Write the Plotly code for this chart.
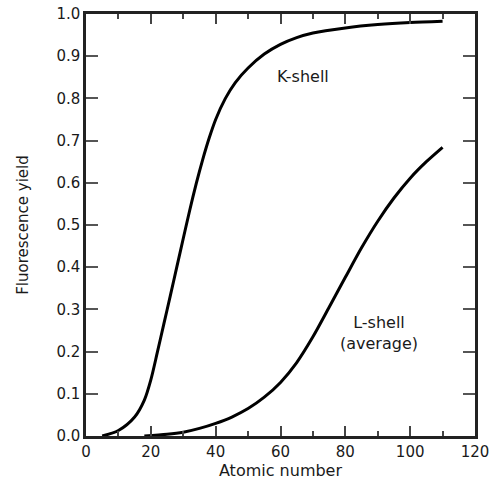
import plotly.graph_objects as go

# K-shell fluorescence yield vs atomic number
k_z = [5, 10, 15, 18, 20, 22, 24, 26, 28, 30, 32, 34, 36, 38, 40, 43, 46, 50, 55, 60, 65, 70, 80, 90, 100, 110]
k_yield = [0.0, 0.013, 0.045, 0.085, 0.133, 0.198, 0.265, 0.332, 0.4, 0.468, 0.535, 0.598, 0.655, 0.706, 0.75,
           0.8, 0.837, 0.872, 0.905, 0.928, 0.944, 0.955, 0.967, 0.975, 0.98, 0.983]

# L-shell (average) fluorescence yield
l_z = [18, 25, 30, 35, 40, 45, 50, 55, 60, 65, 70, 75, 80, 85, 90, 95, 100, 105, 110]
l_yield = [0.0, 0.004, 0.009, 0.018, 0.03, 0.045, 0.065, 0.092, 0.127, 0.174, 0.235, 0.305, 0.376, 0.446,
           0.509, 0.564, 0.611, 0.65, 0.684]

x_ticks = [0, 20, 40, 60, 80, 100, 120]
y_ticks = [0.0, 0.1, 0.2, 0.3, 0.4, 0.5, 0.6, 0.7, 0.8, 0.9, 1.0]
y_ticktext = [f"{v:.1f}" for v in y_ticks]

FONT = "DejaVu Sans"
TXT = "#1a1a1a"

fig = go.Figure()
fig.add_trace(go.Scatter(x=k_z, y=k_yield, mode="lines", name="K-shell",
                         line=dict(color="black", width=3, shape="spline", smoothing=0.8)))
fig.add_trace(go.Scatter(x=l_z, y=l_yield, mode="lines", name="L-shell (average)",
                         line=dict(color="black", width=3, shape="spline", smoothing=0.8)))

fig.add_annotation(x=67, y=0.851, text="K-shell", showarrow=False,
                   font=dict(family=FONT, size=16, color=TXT))
fig.add_annotation(x=90.3, y=0.244, text="L-shell<br>(average)", showarrow=False,
                   font=dict(family=FONT, size=16, color=TXT))

fig.update_layout(
    width=494, height=482,
    margin=dict(l=86, r=19, t=14, b=46),
    paper_bgcolor="white", plot_bgcolor="white",
    showlegend=False,
    font=dict(family=FONT, size=15, color=TXT),
)
fig.update_xaxes(
    range=[0, 120], tickvals=x_ticks, ticktext=[str(v) for v in x_ticks],
    automargin=False,
    showgrid=False, zeroline=False,
    showline=True, linewidth=2.5, linecolor="#222222", mirror="ticks",
    ticks="inside", ticklen=10, tickwidth=1.5, tickcolor="#444444",
    minor=dict(dtick=10, ticks="inside", ticklen=5, tickwidth=1.5, tickcolor="#444444", showgrid=False),
    title=dict(text="Atomic number", font=dict(family=FONT, size=16, color=TXT), standoff=6),
    tickfont=dict(family=FONT, size=15, color=TXT),
)
fig.update_yaxes(
    range=[0, 1.0], tickvals=y_ticks, ticktext=y_ticktext,
    automargin=False,
    showgrid=False, zeroline=False,
    showline=True, linewidth=2.5, linecolor="#222222", mirror="ticks",
    ticks="inside", ticklen=12, tickwidth=1.5, tickcolor="#555555",
    title=dict(text="Fluorescence yield", font=dict(family=FONT, size=15, color=TXT), standoff=25),
    tickfont=dict(family=FONT, size=15, color=TXT),
)

fig.write_html("out.html")
